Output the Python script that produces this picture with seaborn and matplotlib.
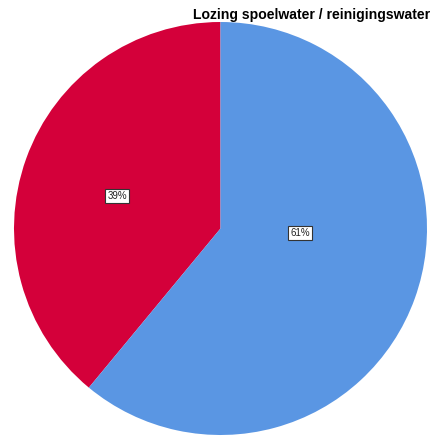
import matplotlib
matplotlib.use("Agg")
import matplotlib.pyplot as plt
import seaborn as sns

sns.set_style("white")
plt.rcParams['font.family'] = ['Liberation Sans', 'DejaVu Sans']

title = "Lozing spoelwater / reinigingswater"
categories = ["Ja", "Nee"]
values = [39, 61]
pct_labels = ["39%", "61%"]
colors = ["#D4003A", "#5A96E3"]

# layout: label positions in pie units (radius = 1)
label_pos = [(-0.50, 0.157), (0.385, -0.022)]

W, H = 431, 436
fig = plt.figure(figsize=(W / 100, H / 100), dpi=100)
cx, cy, r = 220.5, 228.5, 206.5
ax = fig.add_axes([(cx - r) / W, (H - cy - r) / H, 2 * r / W, 2 * r / H])

wedges, _ = ax.pie(values, colors=colors, startangle=90, counterclock=True,
                   radius=1, wedgeprops=dict(linewidth=0))
ax.set_xlim(-1, 1)
ax.set_ylim(-1, 1)
ax.set_aspect('auto')
ax.axis('off')

for (x, y), lab in zip(label_pos, pct_labels):
    ax.text(x, y, lab, ha='center', va='center', fontsize=7, color='#222222',
            bbox=dict(boxstyle='square,pad=0.2', fc='white', ec='#333333', lw=0.8))

fig.text(430 / W, 1 - 19 / H, title, ha='right', va='baseline',
         fontsize=10.1, fontweight='bold', color='black')

fig.savefig("out.png", dpi=100)
